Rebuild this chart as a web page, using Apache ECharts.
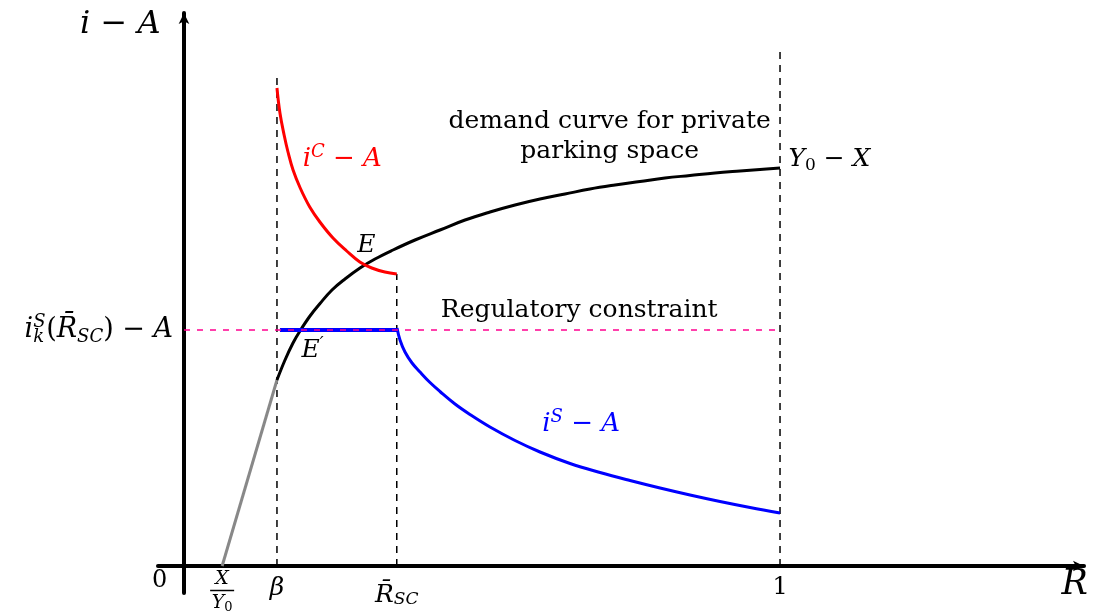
<!DOCTYPE html>
<html>
<head>
<meta charset="utf-8">
<script src="https://cdn.jsdelivr.net/npm/echarts@6/dist/echarts.min.js"></script>
</head>
<body style="margin:0">
<div id="main" style="width:1093px;height:613px"></div>
<script>
// values (R on x, i - A on y, arbitrary units)
var xTicks = [0.064, 0.156, 0.357, 1];
var xTickText = ['{fn|X}\n{fb| }\n{fd|Y}{fs|0}', '{bt|β}', '{rt|R\u0304}{rs|SC}', '{ot|1}'];
var regLevel = 2.36;
var entry = [[0.064, 0], [0.156, 1.86]];
var demand = [[0.156, 1.86], [0.1695, 2.06], [0.1829, 2.23], [0.1946, 2.35], [0.2114, 2.50], [0.2282, 2.625],
    [0.2483, 2.76], [0.2701, 2.87], [0.2953, 2.98], [0.3205, 3.07], [0.3507, 3.16], [0.3876, 3.26],
    [0.4295, 3.36], [0.4715, 3.46], [0.5134, 3.54], [0.5554, 3.61], [0.5973, 3.67], [0.6393, 3.72],
    [0.6812, 3.77], [0.7232, 3.81], [0.7651, 3.845], [0.8070, 3.88], [0.8490, 3.905], [0.8909, 3.93],
    [0.9329, 3.95], [0.9664, 3.965], [1.0, 3.98]];
var iC = [[0.156, 4.78], [0.161, 4.53], [0.168, 4.31], [0.1745, 4.14], [0.183, 3.96], [0.195, 3.78],
    [0.211, 3.59], [0.228, 3.44], [0.250, 3.28], [0.273, 3.15], [0.295, 3.04], [0.315, 2.98],
    [0.337, 2.94], [0.357, 2.92]];
var iSFlat = [[0.161, 2.36], [0.357, 2.36]];
var iS = [[0.3574, 2.38], [0.3624, 2.26], [0.3708, 2.14], [0.3826, 2.03], [0.3960, 1.94], [0.4128, 1.835],
    [0.4295, 1.745], [0.4547, 1.62], [0.4799, 1.515], [0.5134, 1.39], [0.5554, 1.255], [0.5973, 1.14],
    [0.6477, 1.025], [0.6980, 0.935], [0.7483, 0.855], [0.7987, 0.78], [0.8490, 0.71], [0.8993, 0.645],
    [0.9497, 0.585], [1.0, 0.53]];
var guides = [[0.156, 4.91], [0.357, 2.92], [1, 5.18]];

var serif = 'DejaVu Serif';

function mathRich(F, color) {
    var f = Math.round(F * 0.68);
    var base = {fontFamily: serif, fontSize: F, lineHeight: Math.round(F * 1.4), align: 'left', verticalAlign: 'middle', color: color || '#000'};
    function s(o) { return Object.assign({}, base, o); }
    var down = [Math.round(F * 0.5), 0, 0, 0], up = [0, 0, Math.round(F * 0.55), 0];
    return {
        m: s({}),
        mi: s({fontStyle: 'italic'}),
        sb: s({fontSize: f, fontStyle: 'italic', lineHeight: null, padding: down}),
        sk: s({fontSize: f, fontStyle: 'italic', lineHeight: null, padding: down, width: f * 0.72}),
        sbu: s({fontSize: f, lineHeight: null, padding: down}),
        su: s({fontSize: f, fontStyle: 'italic', lineHeight: null, padding: up}),
        sz: s({fontSize: f, fontStyle: 'italic', lineHeight: null, padding: up, width: 0.001})
    };
}

var xRich = {
    fn: {fontFamily: serif, fontStyle: 'italic', fontSize: 19, lineHeight: 18, align: 'center', verticalAlign: 'middle'},
    fb: {fontSize: 1.5, width: 24, height: 1.5, lineHeight: 5, backgroundColor: '#000', align: 'center', verticalAlign: 'middle'},
    fd: {fontFamily: serif, fontStyle: 'italic', fontSize: 19, lineHeight: 21, align: 'center', verticalAlign: 'middle'},
    fs: {fontFamily: serif, fontSize: 13, padding: [8, 0, 0, 0], align: 'center', verticalAlign: 'middle'},
    bt: {fontFamily: serif, fontStyle: 'italic', fontSize: 25, lineHeight: 36, align: 'center', verticalAlign: 'middle'},
    rt: {fontFamily: serif, fontStyle: 'italic', fontSize: 25, lineHeight: 50, align: 'center', verticalAlign: 'middle'},
    rs: {fontFamily: serif, fontStyle: 'italic', fontSize: 17, padding: [10, 0, 0, 0], align: 'center', verticalAlign: 'middle'},
    ot: {fontFamily: serif, fontSize: 24, lineHeight: 36, align: 'center', verticalAlign: 'middle'}
};

function note(x, y, text, opt) {
    var lab = Object.assign({formatter: text, align: 'center', verticalAlign: 'middle', color: '#000'}, opt || {});
    return {value: [x, y], label: lab};
}

var notes = [
    note(-0.106, 5.41, '{mi|i}{m| \u2212 }{mi|A}', {rich: mathRich(32)}),
    note(1.495, -0.19, '{mi|R}', {rich: mathRich(35)}),
    note(-0.040, -0.15, '0', {fontFamily: serif, fontSize: 24}),
    note(1.015, 4.06, '{mi|Y}{sbu|0}{m| \u2212 }{mi|X}', {align: 'left', rich: mathRich(25)}),
    note(0.715, 4.29, 'demand curve for private\nparking space', {fontFamily: serif, fontSize: 25, lineHeight: 30}),
    note(0.664, 2.55, 'Regulatory constraint', {fontFamily: serif, fontSize: 25}),
    note(0.200, 4.06, '{mi|i}{su|C}{m| \u2212 }{mi|A}', {align: 'left', color: '#ff0000', rich: mathRich(26, '#ff0000')}),
    note(0.307, 3.20, '{mi|E}', {rich: mathRich(25)}),
    note(0.198, 2.15, '{mi|E}{su|\u2032}', {align: 'left', rich: mathRich(25)}),
    note(0.602, 1.41, '{mi|i}{su|S}{m| \u2212 }{mi|A}', {align: 'left', color: '#0000ff', rich: mathRich(26, '#0000ff')})
];

function curve(data, color, width, extra) {
    return Object.assign({
        type: 'line', data: data, showSymbol: false, silent: true,
        lineStyle: {color: color, width: width}
    }, extra || {});
}

var series = [];
guides.forEach(function (g) {
    series.push(curve([[g[0], 0], [g[0], g[1]]], '#000', 1.5, {lineStyle: {color: '#000', width: 1.5, type: [7, 6]}}));
});
series.push(curve(entry, '#888888', 3));
series.push(curve(demand, '#000000', 3, {smooth: 0.4}));
series.push(curve(iC, '#ff0000', 3, {smooth: 0.4}));
series.push(curve(iSFlat, '#0000ff', 4));
series.push(curve(iS, '#0000ff', 3, {smooth: 0.4}));
series.push(curve([[0, regLevel], [1, regLevel]], '#ff0090', 1.3, {lineStyle: {color: '#ff0090', width: 1.3, type: [6, 7]}}));
series.push({
    type: 'scatter', symbolSize: 1, silent: true, clip: false, z: 5,
    itemStyle: {color: 'rgba(0,0,0,0)', opacity: 1},
    label: {show: true, position: [0, 0], color: '#000', fontFamily: serif},
    data: notes
});

var yLabel = '{mi|i}{sz|S}{sk|k}{m|(}{mi|R\u0304}{sb|SC}{m|) \u2212 }{mi|A}';

var axisLine = {
    onZero: true, symbol: ['none', 'arrow'], symbolSize: [8, 11],
    lineStyle: {color: '#000', width: 4}
};

var myChart = echarts.init(document.getElementById('main'));
myChart.setOption({
    animation: false,
    backgroundColor: '#fff',
    grid: {left: 158, right: 9, top: 13, bottom: 20, outerBoundsMode: 'none'},
    xAxis: {
        type: 'value', min: -0.0436, max: 1.51,
        axisLine: axisLine,
        axisTick: {show: false},
        splitLine: {show: false},
        axisLabel: {
            customValues: xTicks, margin: -23, color: '#000', rich: xRich,
            formatter: function (v) {
                for (var i = 0; i < xTicks.length; i++) {
                    if (Math.abs(xTicks[i] - v) < 1e-6) return xTickText[i];
                }
                return '';
            }
        }
    },
    yAxis: {
        type: 'value', min: -0.27, max: 5.53,
        axisLine: axisLine,
        axisTick: {show: false},
        splitLine: {show: false},
        axisLabel: {
            customValues: [regLevel], margin: -15, color: '#000', rich: mathRich(27),
            formatter: function () { return yLabel; }
        }
    },
    series: series
});
</script>
</body>
</html>
